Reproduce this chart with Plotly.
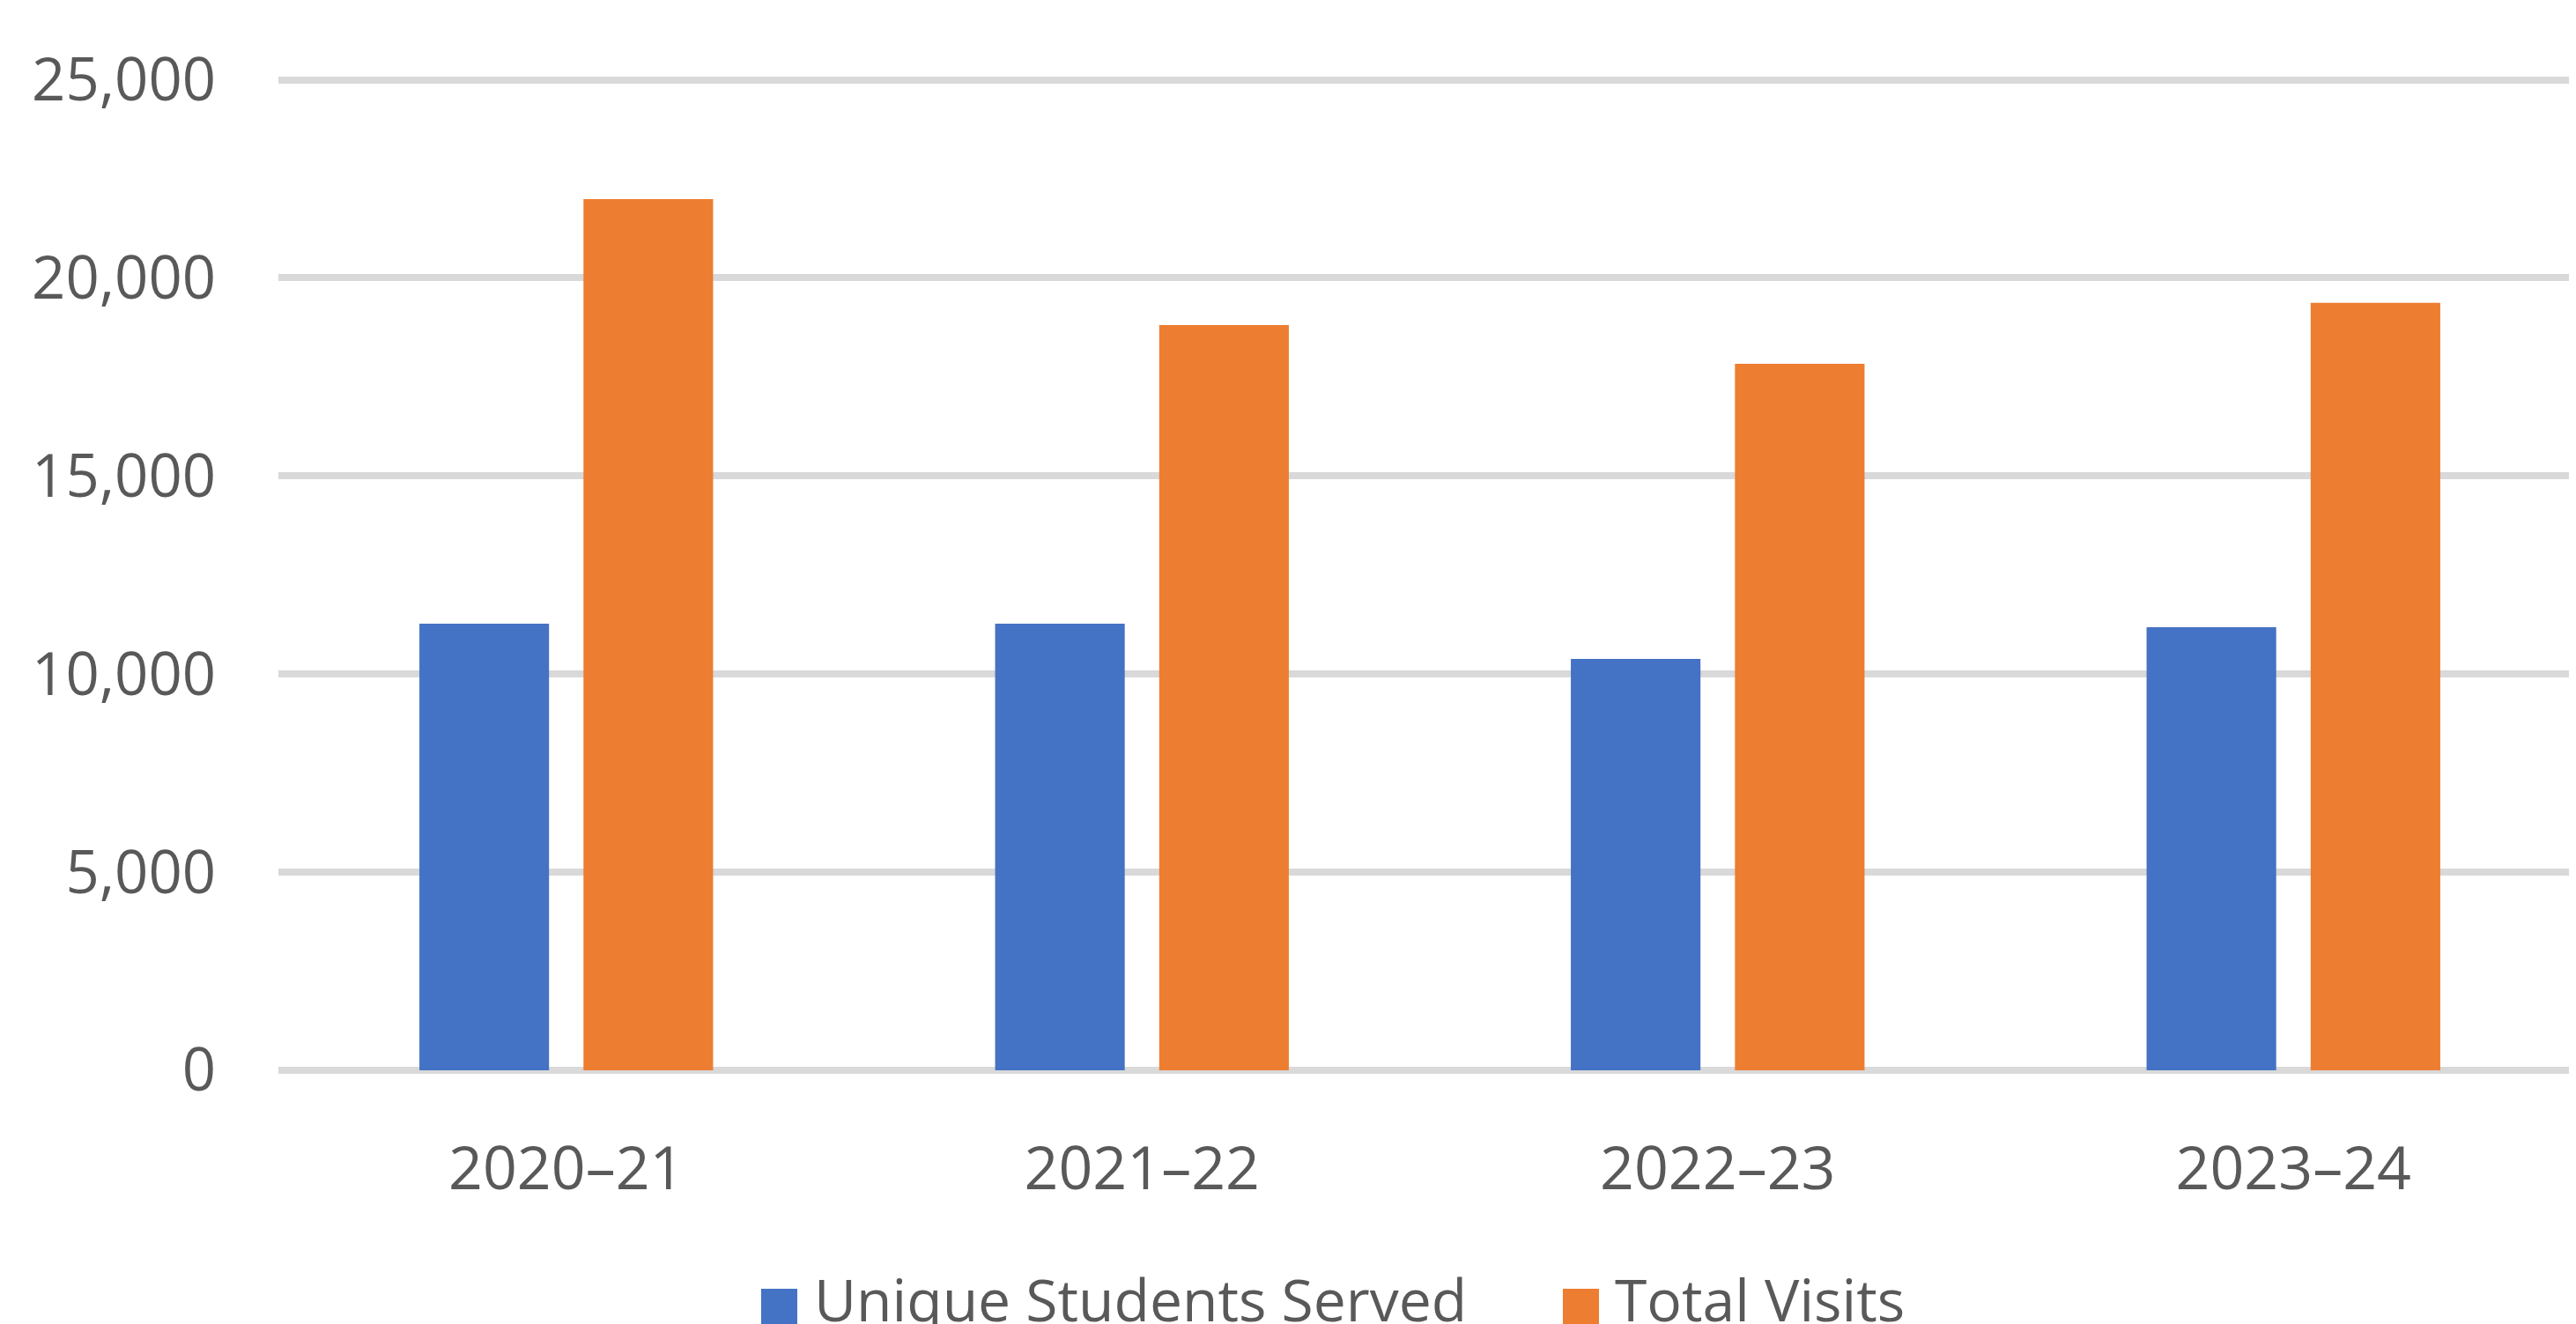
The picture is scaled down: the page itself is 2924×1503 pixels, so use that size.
import plotly.graph_objects as go

# ---- data ----
categories = ["2020\u201321", "2021\u201322", "2022\u201323", "2023\u201324"]
unique_students = [11270, 11270, 10380, 11180]
total_visits = [21990, 18810, 17830, 19370]
series_names = ["Unique Students Served", "Total Visits"]
y_tickvals = [0, 5000, 10000, 15000, 20000, 25000]

# ---- style ----
W, H = 2924, 1503
ML, MR, MT, MB = 308, 2, 74, 296
Y_TOP = 25189  # a little headroom so the 25,000 gridline is not clipped at the edge
BLUE = "#4472C4"
ORANGE = "#ED7D31"
TEXT = "#595959"
GRID = "#D9D9D9"
FONT = "Open Sans"

fig = go.Figure()
fig.add_trace(go.Bar(x=categories, y=unique_students, name=series_names[0],
                     marker=dict(color=BLUE, line=dict(width=0)), showlegend=False))
fig.add_trace(go.Bar(x=categories, y=total_visits, name=series_names[1],
                     marker=dict(color=ORANGE, line=dict(width=0)), showlegend=False))

# Legend drawn as squares + text (Excel-style large swatches)
pw = W - ML - MR
ph = H - MT - MB
def px_x(p):
    return (p - ML) / pw
def px_y(p):
    return (H - MB - p) / ph

legend_items = [(series_names[0], BLUE, 856, 914), (series_names[1], ORANGE, 1766, 1823)]
for name, color, sq_left, txt_left in legend_items:
    fig.add_shape(type="rect", xref="paper", yref="paper",
                  x0=px_x(sq_left), x1=px_x(sq_left + 41),
                  y0=px_y(1495), y1=px_y(1455),
                  fillcolor=color, line=dict(width=0))
    fig.add_annotation(text=name, xref="paper", yref="paper",
                       x=px_x(txt_left), y=px_y(1466), xanchor="left", yanchor="middle",
                       showarrow=False, font=dict(family=FONT, size=66, color=TEXT))

fig.update_layout(
    width=W, height=H,
    margin=dict(l=ML, r=MR, t=MT, b=MB),
    paper_bgcolor="white", plot_bgcolor="white",
    barmode="group", bargap=0.43, bargroupgap=0.21,
    font=dict(family=FONT, size=67, color=TEXT),
    showlegend=False,
)
fig.update_xaxes(showgrid=False, showline=False, zeroline=False, ticks="",
                 tickfont=dict(family=FONT, size=68, color=TEXT),
                 ticklabelstandoff=66)
fig.update_yaxes(range=[0, Y_TOP], tickvals=y_tickvals, tickformat=",d",
                 showgrid=True, gridcolor=GRID, gridwidth=8,
                 zeroline=True, zerolinecolor=GRID, zerolinewidth=8,
                 showline=False, ticks="",
                 tickfont=dict(family=FONT, size=67, color=TEXT),
                 ticklabelstandoff=70)

fig.write_html("out.html")
